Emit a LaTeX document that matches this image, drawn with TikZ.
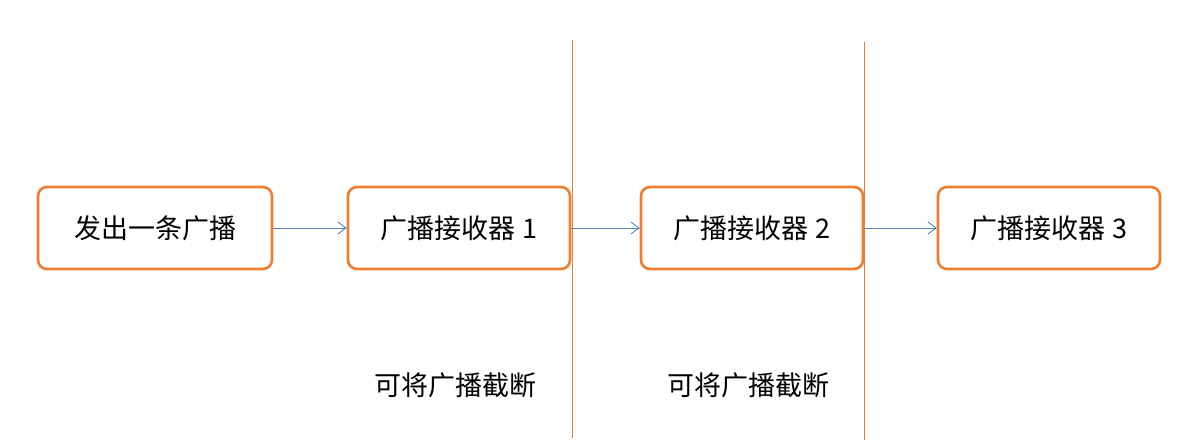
\documentclass[tikz,border=0pt]{standalone}
\usepackage{fontspec}
\setmainfont{Noto Sans CJK SC}
\usetikzlibrary{positioning,arrows.meta}
\definecolor{boxorange}{RGB}{237,125,49}
\definecolor{arrowblue}{RGB}{79,129,189}
\tikzset{
    stage/.style={draw=boxorange, line width=2.6pt, rounded corners=9pt, minimum width=222pt, minimum height=82pt, font=\fontsize{27}{32}\selectfont, fill=white},
    flow/.style={draw=arrowblue, line width=0.9pt, -{Straight Barb[length=8pt,width=12pt]}},
    cut/.style={draw=boxorange, line width=1pt},
    note/.style={font=\fontsize{27}{32}\selectfont}
}
\begin{document}
\begin{tikzpicture}[x=1pt,y=1pt]
    \useasboundingbox (0,0) rectangle (1188,447);
    \node[stage, minimum width=234pt] (send) at (155,219) {发出一条广播};
    \node[stage] (recv1) at (459,219) {广播接收器 1};
    \node[stage] (recv2) at (752,219) {广播接收器 2};
    \node[stage] (recv3) at (1049,219) {广播接收器 3};

    \draw[flow] (send) -- (recv1);
    \draw[flow] (recv1) -- (recv2);
    \draw[flow] (recv2) -- (recv3);

    \coordinate (cutA top) at (572,407);
    \coordinate (cutA bot) at (572,9);
    \coordinate (cutB top) at (864,405);
    \coordinate (cutB bot) at (864,7);
    \draw[cut] (cutA top) -- (cutA bot);
    \draw[cut] (cutB top) -- (cutB bot);

    \node[note] (noteA) at (455,62) {可将广播截断};
    \node[note] (noteB) at (748,62) {可将广播截断};
\end{tikzpicture}
\end{document}
